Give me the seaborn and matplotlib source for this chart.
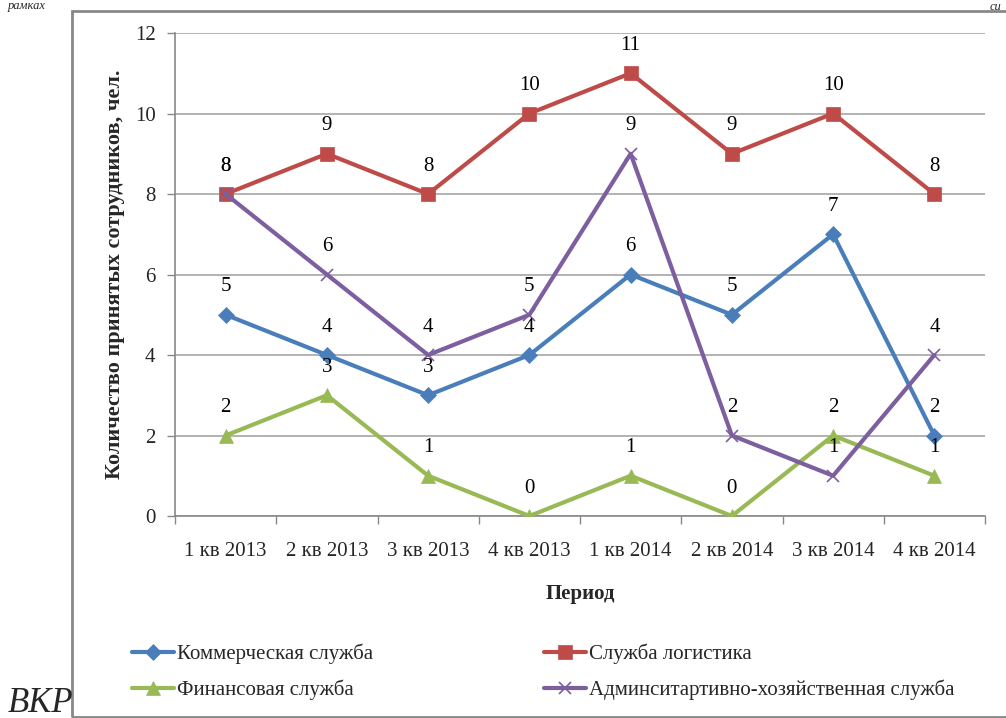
import matplotlib
matplotlib.use("Agg")
import matplotlib.pyplot as plt
import seaborn as sns
import pandas as pd
from matplotlib.patches import Rectangle

periods = ["1 кв 2013", "2 кв 2013", "3 кв 2013", "4 кв 2013",
           "1 кв 2014", "2 кв 2014", "3 кв 2014", "4 кв 2014"]
commercial = [5, 4, 3, 4, 6, 5, 7, 2]
logistics = [8, 9, 8, 10, 11, 9, 10, 8]
finance = [2, 3, 1, 0, 1, 0, 2, 1]
admin = [8, 6, 4, 5, 9, 2, 1, 4]

names = ["Коммерческая служба", "Служба логистика",
         "Финансовая служба", "Админситартивно-хозяйственная служба"]
series = [commercial, logistics, finance, admin]
colors = ["#4A7EBB", "#BE4B48", "#98B954", "#7D5FA0"]
markers = ["D", "s", "^", "x"]
msizes = [8, 10, 10, 9]

sns.set_theme(style="white")
plt.rcParams["font.family"] = ["Liberation Serif", "DejaVu Serif"]

fig = plt.figure(figsize=(10.06, 7.18), dpi=100)
ax = fig.add_axes([175/1006, 1-516/718, (985-175)/1006, (516-33)/718])

x = list(range(len(periods)))
handles = []
for name, vals, c, m, ms in zip(names, series, colors, markers, msizes):
    df = pd.DataFrame({"x": x, "y": vals})
    sns.lineplot(data=df, x="x", y="y", ax=ax, color=c, linewidth=3,
                 marker=m, markersize=ms, markeredgecolor=c,
                 markeredgewidth=1.2 if m == "x" else 0.5, zorder=3)
    handles.append(ax.lines[-1])
    for xi, v in zip(x, vals):
        ax.annotate(str(v), (xi, v), xytext=(0, 20), textcoords="offset points",
                    ha="center", va="center", fontsize=15, color="black", zorder=4)

ax.set_xlim(-0.5, 7.5)
ax.set_ylim(0, 12)
ax.set_yticks(range(0, 13, 2))
ax.set_xticks(x)
ax.set_xticklabels(periods)
ax.set_xticks([i - 0.5 for i in range(9)], minor=True)
ax.tick_params(axis="x", which="major", length=0, pad=19, labelsize=15)
ax.tick_params(axis="x", which="minor", length=6, width=1, color="#888888", direction="out", bottom=True)
ax.tick_params(axis="y", which="major", length=6, width=1, color="#888888", direction="out", left=True, pad=8, labelsize=15)
ax.grid(axis="y", color="#A6A6A6", linewidth=1.2, zorder=0)
ax.set_axisbelow(True)
for s in ["top", "right"]:
    ax.spines[s].set_visible(False)
for s in ["left", "bottom"]:
    ax.spines[s].set_color("#888888")
    ax.spines[s].set_linewidth(1.2)

ax.set_xlabel("Период", fontsize=15, fontweight="bold", labelpad=16)
ax.set_ylabel("Количество принятых сотрудников, чел.", fontsize=16, fontweight="bold", labelpad=7)

order = [0, 2, 1, 3]
leg = fig.legend([handles[i] for i in order], [names[i] for i in order],
                 ncol=2, loc="upper left", bbox_to_anchor=(124/1006, 1-635/718),
                 frameon=False, fontsize=15, handlelength=2.0, handletextpad=0.15,
                 columnspacing=8.2, labelspacing=0.75, borderaxespad=0)

# page frame of embedded chart
fig.add_artist(Rectangle((72/1006, 1/718), 1.1, (717-11)/718, transform=fig.transFigure,
                         fill=False, edgecolor="#888888", linewidth=2))

fig.text(8/1006, 1-0.5/718, "рамках", fontsize=9, style="italic", ha="left", va="top")
fig.text(990/1006, 1-0.5/718, "си", fontsize=9, style="italic", ha="left", va="top")
fig.text(8/1006, 1-712/718, "ВКР", fontsize=25, style="italic", ha="left", va="baseline")

fig.savefig("out.png", dpi=100)
